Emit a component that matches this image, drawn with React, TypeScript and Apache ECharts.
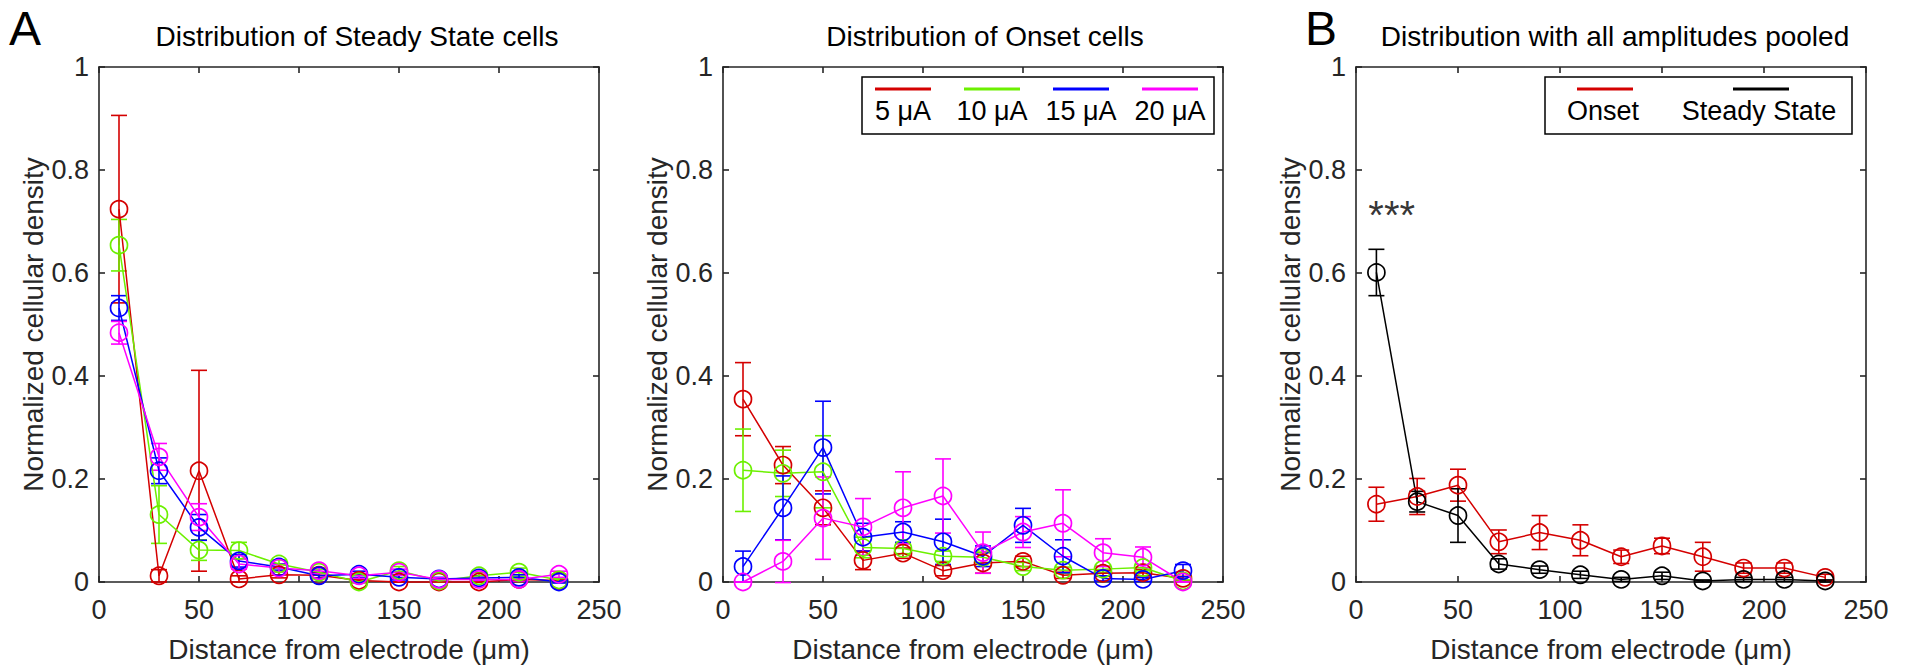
import React, { useEffect, useRef } from "react";
import * as echarts from "echarts";

// ---------- data ----------
const distances = [10, 30, 50, 70, 90, 110, 130, 150, 170, 190, 210, 230];
const xTicks = [0, 50, 100, 150, 200, 250];
const yTicks = [0, 0.2, 0.4, 0.6, 0.8, 1];

// Panel A – Steady State cells
const ss5 = [0.724, 0.012, 0.216, 0.006, 0.014, 0.013, 0.003, 0.0, 0.0, 0.0, 0.005, 0.003];
const ss5Err = [0.182, 0.012, 0.195, 0.006, 0.006, 0.005, 0.002, 0.0, 0.0, 0.0, 0.004, 0.002];
const ss10 = [0.654, 0.131, 0.062, 0.061, 0.035, 0.019, 0.0, 0.022, 0.002, 0.012, 0.019, 0.004];
const ss10Err = [0.05, 0.056, 0.02, 0.016, 0.008, 0.006, 0.002, 0.008, 0.002, 0.006, 0.008, 0.003];
const ss15 = [0.532, 0.216, 0.106, 0.041, 0.029, 0.012, 0.015, 0.009, 0.006, 0.008, 0.009, 0.0];
const ss15Err = [0.024, 0.025, 0.025, 0.012, 0.006, 0.005, 0.006, 0.005, 0.003, 0.004, 0.005, 0.002];
const ss20 = [0.484, 0.243, 0.126, 0.035, 0.027, 0.022, 0.012, 0.019, 0.005, 0.005, 0.005, 0.015];
const ss20Err = [0.022, 0.026, 0.026, 0.01, 0.007, 0.006, 0.005, 0.006, 0.003, 0.003, 0.003, 0.006];

// Panel B – Onset cells
const on5 = [0.355, 0.227, 0.144, 0.042, 0.056, 0.022, 0.037, 0.04, 0.013, 0.017, 0.018, 0.007];
const on5Err = [0.071, 0.036, 0.033, 0.018, 0.01, 0.01, 0.02, 0.01, 0.006, 0.006, 0.006, 0.004];
const on10 = [0.217, 0.211, 0.214, 0.067, 0.065, 0.05, 0.048, 0.03, 0.023, 0.025, 0.028, 0.002];
const on10Err = [0.08, 0.045, 0.07, 0.02, 0.01, 0.01, 0.01, 0.008, 0.006, 0.006, 0.006, 0.002];
const on15 = [0.03, 0.144, 0.261, 0.087, 0.097, 0.078, 0.05, 0.11, 0.05, 0.007, 0.005, 0.022];
const on15Err = [0.03, 0.062, 0.09, 0.027, 0.02, 0.044, 0.02, 0.033, 0.032, 0.005, 0.004, 0.012];
const on20 = [0.0, 0.04, 0.124, 0.107, 0.144, 0.167, 0.057, 0.097, 0.114, 0.057, 0.048, 0.0];
const on20Err = [0.0, 0.041, 0.08, 0.055, 0.07, 0.072, 0.04, 0.03, 0.065, 0.027, 0.02, 0.0];

// Panel C – pooled
const poolOnset = [0.151, 0.166, 0.188, 0.078, 0.096, 0.081, 0.049, 0.07, 0.049, 0.027, 0.027, 0.009];
const poolOnsetErr = [0.033, 0.035, 0.031, 0.023, 0.033, 0.03, 0.013, 0.015, 0.028, 0.01, 0.01, 0.006];
const poolSteady = [0.601, 0.156, 0.129, 0.035, 0.024, 0.014, 0.005, 0.012, 0.002, 0.005, 0.005, 0.002];
const poolSteadyErr = [0.045, 0.02, 0.052, 0.01, 0.007, 0.007, 0.004, 0.007, 0.002, 0.004, 0.004, 0.002];

const amplitudeLabels = ["5 μA", "10 μA", "15 μA", "20 μA"];
const pooledLabels = ["Onset", "Steady State"];
const panelTitles = [
  "Distribution of Steady State cells",
  "Distribution of Onset cells",
  "Distribution with all amplitudes pooled",
];
const panelLetters = ["A", "B"];
const xLabel = "Distance from electrode (μm)";
const yLabel = "Normalized cellular density";
const significance = { x: 17.5, y: 0.712, text: "***" };

// ---------- styling ----------
const FONT = "'Liberation Sans', Arial, Helvetica, sans-serif";
const AX = "#262626";
const RED = "#d40000";
const GREEN = "#6cf000";
const BLUE = "#0000ff";
const MAGENTA = "#ff00ff";
const BLACK = "#000000";

const grids = [
  { left: 99, top: 67, width: 500, height: 515 },
  { left: 723, top: 67, width: 500, height: 515 },
  { left: 1356, top: 67, width: 510, height: 515 },
];
const titleCenters = [357, 985, 1615];

function lineSeries(p: number, color: string, values: number[], name: string) {
  return {
    type: "line",
    name,
    xAxisIndex: 2 * p,
    yAxisIndex: 2 * p,
    data: distances.map((d, i) => [d, values[i]]),
    symbol: "circle",
    symbolSize: 17,
    showSymbol: true,
    lineStyle: { color, width: 1.5 },
    itemStyle: { color: "rgba(0,0,0,0)", borderColor: color, borderWidth: 1.7 },
    emphasis: { disabled: true },
    silent: true,
    clip: false,
    z: 3,
  };
}

function errSeries(p: number, color: string, values: number[], errs: number[]) {
  return {
    type: "custom",
    xAxisIndex: 2 * p,
    yAxisIndex: 2 * p,
    data: distances.map((d, i) => [d, values[i] - errs[i], values[i] + errs[i]]),
    encode: { x: 0, y: [1, 2] },
    silent: true,
    clip: false,
    z: 3,
    renderItem: (params: any, api: any) => {
      const x = api.value(0);
      const lo = api.coord([x, api.value(1)]);
      const hi = api.coord([x, api.value(2)]);
      const hw = 8;
      const st = { stroke: color, lineWidth: 1.6 };
      return {
        type: "group",
        children: [
          { type: "line", shape: { x1: lo[0], y1: lo[1], x2: hi[0], y2: hi[1] }, style: st },
          { type: "line", shape: { x1: lo[0] - hw, y1: lo[1], x2: lo[0] + hw, y2: lo[1] }, style: st },
          { type: "line", shape: { x1: hi[0] - hw, y1: hi[1], x2: hi[0] + hw, y2: hi[1] }, style: st },
        ],
      };
    },
  };
}

function buildOption() {
  const xAxis: any[] = [];
  const yAxis: any[] = [];
  grids.forEach((g, p) => {
    const common = {
      gridIndex: p,
      min: 0,
      splitLine: { show: false },
      axisLine: { show: true, onZero: false, lineStyle: { color: AX, width: 1.6 } },
      axisTick: { show: true, inside: true, length: 6, lineStyle: { color: AX, width: 1.6 } },
    };
    xAxis.push({
      ...common,
      type: "value",
      position: "bottom",
      max: xTicks[xTicks.length - 1],
      interval: xTicks[1] - xTicks[0],
      axisLabel: { color: AX, fontSize: 27, fontFamily: FONT, margin: 14 },
      name: xLabel,
      nameLocation: "middle",
      nameGap: 53,
      nameTextStyle: { color: AX, fontSize: 28, fontFamily: FONT },
    });
    xAxis.push({
      ...common,
      type: "value",
      position: "top",
      max: xTicks[xTicks.length - 1],
      interval: xTicks[1] - xTicks[0],
      axisLabel: { show: false },
    });
    yAxis.push({
      ...common,
      type: "value",
      position: "left",
      max: yTicks[yTicks.length - 1],
      interval: yTicks[1] - yTicks[0],
      axisLabel: { color: AX, fontSize: 27, fontFamily: FONT, margin: 10 },
      name: yLabel,
      nameLocation: "middle",
      nameGap: 47,
      nameTextStyle: { color: AX, fontSize: 28, fontFamily: FONT },
    });
    yAxis.push({
      ...common,
      type: "value",
      position: "right",
      max: yTicks[yTicks.length - 1],
      interval: yTicks[1] - yTicks[0],
      axisLabel: { show: false },
    });
  });

  const series: any[] = [
    errSeries(0, RED, ss5, ss5Err), lineSeries(0, RED, ss5, amplitudeLabels[0]),
    errSeries(0, GREEN, ss10, ss10Err), lineSeries(0, GREEN, ss10, amplitudeLabels[1]),
    errSeries(0, BLUE, ss15, ss15Err), lineSeries(0, BLUE, ss15, amplitudeLabels[2]),
    errSeries(0, MAGENTA, ss20, ss20Err), lineSeries(0, MAGENTA, ss20, amplitudeLabels[3]),

    errSeries(1, RED, on5, on5Err), lineSeries(1, RED, on5, amplitudeLabels[0]),
    errSeries(1, GREEN, on10, on10Err), lineSeries(1, GREEN, on10, amplitudeLabels[1]),
    errSeries(1, BLUE, on15, on15Err), lineSeries(1, BLUE, on15, amplitudeLabels[2]),
    errSeries(1, MAGENTA, on20, on20Err), lineSeries(1, MAGENTA, on20, amplitudeLabels[3]),

    errSeries(2, RED, poolOnset, poolOnsetErr), lineSeries(2, RED, poolOnset, pooledLabels[0]),
    errSeries(2, BLACK, poolSteady, poolSteadyErr), lineSeries(2, BLACK, poolSteady, pooledLabels[1]),
    {
      type: "scatter",
      xAxisIndex: 4,
      yAxisIndex: 4,
      data: [[significance.x, significance.y]],
      symbolSize: 1,
      itemStyle: { color: "rgba(0,0,0,0)" },
      silent: true,
      label: {
        show: true,
        position: "inside",
        formatter: significance.text,
        color: BLACK,
        fontSize: 40,
        fontFamily: FONT,
      },
    },
  ];

  const graphic: any[] = [];
  // titles
  grids.forEach((g, p) => {
    graphic.push({
      type: "text",
      x: titleCenters[p],
      y: 36,
      style: {
        text: panelTitles[p],
        fill: "#000",
        font: `28px ${FONT}`,
        textAlign: "center",
        textVerticalAlign: "middle",
      },
    });
  });
  // panel letters
  graphic.push({
    type: "text", x: 25, y: 28,
    style: { text: panelLetters[0], fill: "#000", font: `48px ${FONT}`, textAlign: "center", textVerticalAlign: "middle" },
  });
  graphic.push({
    type: "text", x: 1321, y: 28,
    style: { text: panelLetters[1], fill: "#000", font: `48px ${FONT}`, textAlign: "center", textVerticalAlign: "middle" },
  });

  // legend for panel B
  const legB = { x: 862, y: 77, w: 352, h: 57, centers: [903, 992, 1081, 1170] };
  const colorsB = [RED, GREEN, BLUE, MAGENTA];
  graphic.push({
    type: "rect",
    shape: { x: legB.x, y: legB.y, width: legB.w, height: legB.h },
    style: { fill: "#fff", stroke: "#000", lineWidth: 1.5 },
    z: 10,
  });
  legB.centers.forEach((c, i) => {
    graphic.push({
      type: "line",
      shape: { x1: c - 28, y1: legB.y + 12, x2: c + 28, y2: legB.y + 12 },
      style: { stroke: colorsB[i], lineWidth: 3 },
      z: 11,
    });
    graphic.push({
      type: "text", x: c, y: legB.y + 34, z: 11,
      style: { text: amplitudeLabels[i], fill: "#000", font: `27px ${FONT}`, textAlign: "center", textVerticalAlign: "middle" },
    });
  });

  // legend for panel C
  const legC = { x: 1545, y: 77, w: 307, h: 57, centers: [1605, 1761] };
  const colorsC = [RED, BLACK];
  graphic.push({
    type: "rect",
    shape: { x: legC.x, y: legC.y, width: legC.w, height: legC.h },
    style: { fill: "#fff", stroke: "#000", lineWidth: 1.5 },
    z: 10,
  });
  legC.centers.forEach((c, i) => {
    graphic.push({
      type: "line",
      shape: { x1: c - 28, y1: legC.y + 12, x2: c + 28, y2: legC.y + 12 },
      style: { stroke: colorsC[i], lineWidth: 3 },
      z: 11,
    });
    graphic.push({
      type: "text", x: c - 2, y: legC.y + 34, z: 11,
      style: { text: pooledLabels[i], fill: "#000", font: `27px ${FONT}`, textAlign: "center", textVerticalAlign: "middle" },
    });
  });

  return {
    animation: false,
    backgroundColor: "#fff",
    textStyle: { fontFamily: FONT },
    grid: grids.map((g) => ({ ...g, containLabel: false })),
    xAxis,
    yAxis,
    series,
    graphic,
  };
}

export default function App() {
  const ref = useRef<HTMLDivElement>(null);
  useEffect(() => {
    if (!ref.current) return;
    const chart = echarts.init(ref.current, undefined, { renderer: "svg" });
    chart.setOption(buildOption() as any);
    return () => chart.dispose();
  }, []);
  return (
    <div
      ref={ref}
      style={{ position: "absolute", left: 0, top: 0, width: 1907, height: 672, background: "#fff" }}
    />
  );
}
